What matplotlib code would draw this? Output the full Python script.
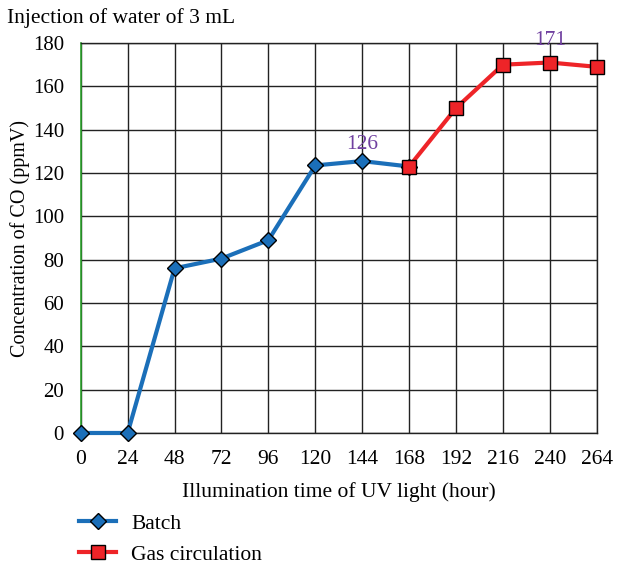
import matplotlib
matplotlib.use('Agg')
import matplotlib.pyplot as plt
from matplotlib.lines import Line2D

plt.rcParams['font.family'] = ['Liberation Serif', 'DejaVu Serif']

# Data
batch_t = [0, 24, 48, 72, 96, 120, 144, 168]
batch_co = [0, 0, 76, 80.5, 89, 123.5, 125.5, 123]
gas_t = [168, 192, 216, 240, 264]
gas_co = [123, 150, 170, 171, 169]
xticks = list(range(0, 265, 24))
yticks = list(range(0, 181, 20))

blue = '#1b6fb9'
red = '#ee2428'
purple = '#7040a0'
fs = 15.5

fig = plt.figure(figsize=(6.21, 5.66), dpi=100)
ax = fig.add_axes([0.130, 0.235, 0.831, 0.689])

ax.plot(batch_t, batch_co, color=blue, lw=3, marker='D', ms=8,
        mfc=blue, mec='black', mew=1, zorder=4, clip_on=False)
ax.plot(gas_t, gas_co, color=red, lw=3, marker='s', ms=10,
        mfc=red, mec='black', mew=1, zorder=4, clip_on=False)

ax.text(144, 133, '126', color=purple, fontsize=fs, ha='center', va='center')
ax.text(240, 181, '171', color=purple, fontsize=fs, ha='center', va='center')

ax.set_xlim(0, 264)
ax.set_ylim(0, 180)
ax.set_xticks(xticks)
ax.set_yticks(yticks)
ax.tick_params(length=0, labelsize=fs)
ax.tick_params(axis='x', pad=12)
ax.tick_params(axis='y', pad=12, labelsize=15)
ax.grid(True, color='#222222', lw=1)
ax.set_axisbelow(True)
for s in ['top', 'right', 'bottom']:
    ax.spines[s].set_color('#222222')
    ax.spines[s].set_linewidth(1)
ax.spines['left'].set_color('#2aa02a')
ax.spines['left'].set_linewidth(1.2)

ax.set_xlabel('Illumination time of UV light (hour)', fontsize=fs, labelpad=10)
ax.set_ylabel('Concentration of CO (ppmV)', fontsize=14.5)
ax.yaxis.set_label_coords(-0.098, 0.5)

fig.text(0.012, 0.968, 'Injection of water of 3 mL', fontsize=fs, va='center')

handles = [
    Line2D([], [], color=blue, lw=3, marker='D', ms=8, mfc=blue, mec='black'),
    Line2D([], [], color=red, lw=3, marker='s', ms=10, mfc=red, mec='black'),
]
fig.legend(handles, ['Batch', 'Gas circulation'], loc='upper left',
           bbox_to_anchor=(0.128, 0.092), frameon=False, fontsize=fs,
           handlelength=1.7, handletextpad=0.7, labelspacing=0.5,
           borderaxespad=0, borderpad=0)

fig.savefig('out.png', dpi=100)
